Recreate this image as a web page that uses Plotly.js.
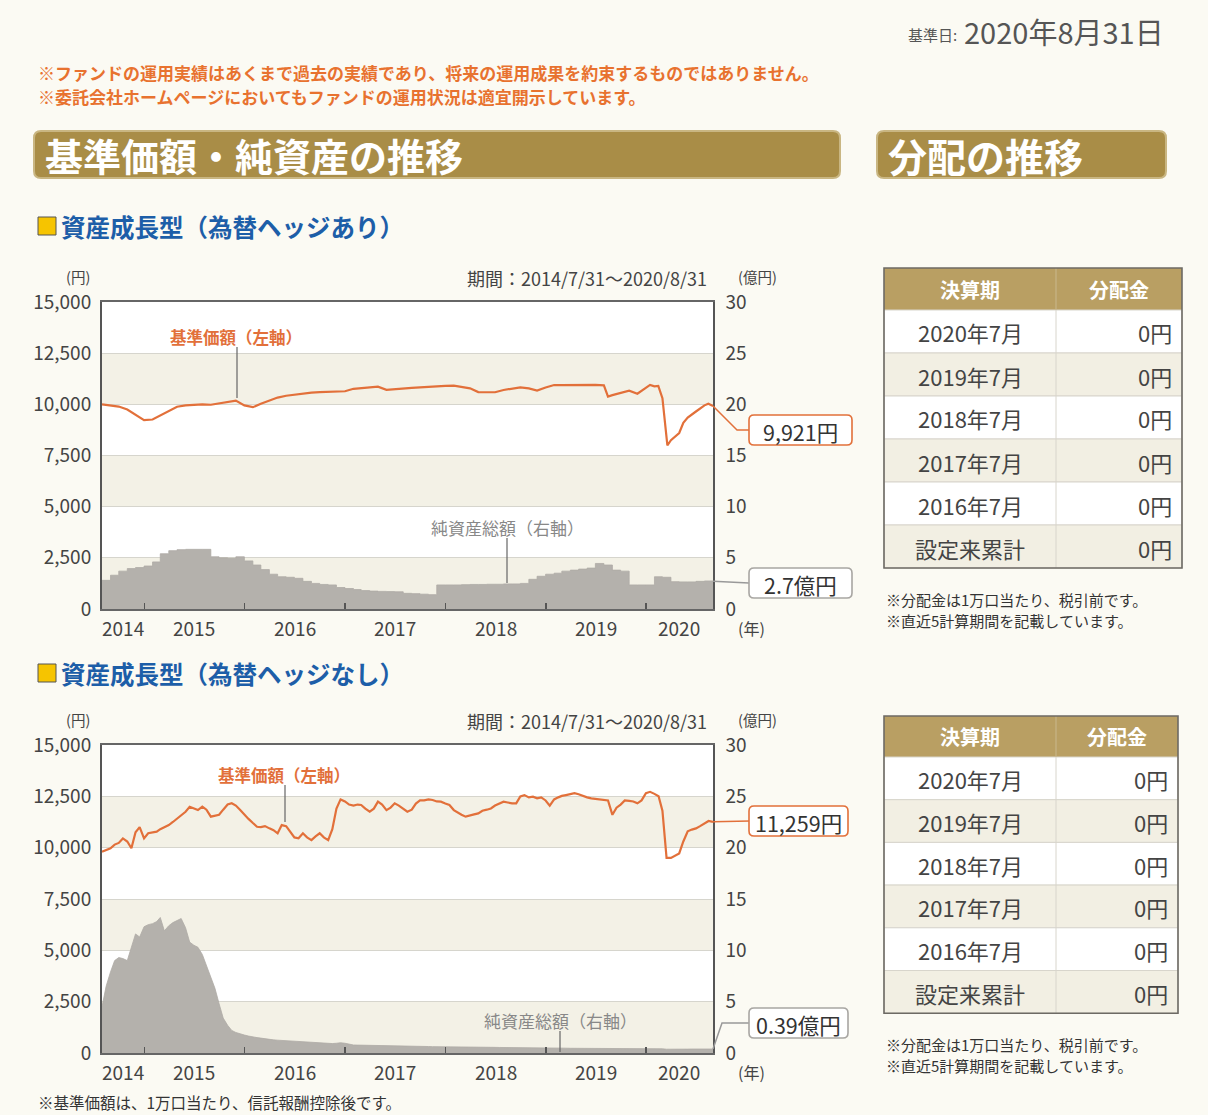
<!DOCTYPE html>
<html><head><meta charset="utf-8">
<script src="https://cdn.plot.ly/plotly-3.0.1.min.js"></script>
<style>html,body{margin:0;padding:0;background:#fbfaf3;} #chart{width:1208px;height:1115px;}</style>
</head><body><div id="chart"></div>
<script>
// ---------------- DATA ----------------
const rangeStart = '2014-07-31';
const rangeEnd = '2020-08-31';
const years = ['2014','2015','2016','2017','2018','2019','2020'];
const yearStarts = ['2015-01-01','2016-01-01','2017-01-01','2018-01-01','2019-01-01','2020-01-01'];
const leftTicks = [0,2500,5000,7500,10000,12500,15000];
const rightTicks = [0,5,10,15,20,25,30];

// Chart 1: 資産成長型（為替ヘッジあり） – monthly net assets (億円)
const monthEnds = ['2014-07-31','2014-08-31','2014-09-30','2014-10-31','2014-11-30','2014-12-31',
'2015-01-31','2015-02-28','2015-03-31','2015-04-30','2015-05-31','2015-06-30','2015-07-31','2015-08-31','2015-09-30','2015-10-31','2015-11-30','2015-12-31',
'2016-01-31','2016-02-29','2016-03-31','2016-04-30','2016-05-31','2016-06-30','2016-07-31','2016-08-31','2016-09-30','2016-10-31','2016-11-30','2016-12-31',
'2017-01-31','2017-02-28','2017-03-31','2017-04-30','2017-05-31','2017-06-30','2017-07-31','2017-08-31','2017-09-30','2017-10-31','2017-11-30','2017-12-31',
'2018-01-31','2018-02-28','2018-03-31','2018-04-30','2018-05-31','2018-06-30','2018-07-31','2018-08-31','2018-09-30','2018-10-31','2018-11-30','2018-12-31',
'2019-01-31','2019-02-28','2019-03-31','2019-04-30','2019-05-31','2019-06-30','2019-07-31','2019-08-31','2019-09-30','2019-10-31','2019-11-30','2019-12-31',
'2020-01-31','2020-02-29','2020-03-31','2020-04-30','2020-05-31','2020-06-30','2020-07-31','2020-08-31'];
const assets1 = [2.8,3.3,3.7,3.95,4.05,4.2,
4.6,5.4,5.7,5.8,5.83,5.83,5.83,5.1,5.0,4.95,5.1,4.7,
4.3,3.85,3.4,3.15,3.1,3.0,2.7,2.5,2.4,2.35,2.1,2.0,
1.9,1.8,1.75,1.72,1.7,1.68,1.53,1.5,1.45,1.4,2.35,2.35,
2.35,2.38,2.4,2.4,2.42,2.42,2.45,2.45,2.5,2.9,3.2,3.4,
3.5,3.7,3.8,3.9,4.0,4.45,4.3,3.8,3.7,2.35,2.35,2.35,
3.15,3.1,2.67,2.65,2.65,2.7,2.74,2.7];

// Chart 1 NAV (円)
const navDates1 = ['2014-07-31','2014-08-31','2014-09-30','2014-10-31','2014-11-30','2014-12-31',
'2015-01-31','2015-02-28','2015-03-31','2015-04-30','2015-05-31','2015-06-30','2015-07-31','2015-08-31','2015-09-30','2015-10-31','2015-11-30','2015-12-31',
'2016-01-31','2016-02-29','2016-03-31','2016-04-30','2016-05-31','2016-06-30','2016-07-31','2016-08-31','2016-09-30','2016-10-31','2016-11-30','2016-12-31',
'2017-01-31','2017-02-28','2017-03-31','2017-04-30','2017-05-31','2017-06-30','2017-07-31','2017-08-31','2017-09-30','2017-10-31','2017-11-30','2017-12-31',
'2018-01-31','2018-02-28','2018-03-31','2018-04-30','2018-05-31','2018-06-30','2018-07-31','2018-08-31','2018-09-30','2018-10-31','2018-11-30','2018-12-31',
'2019-01-31','2019-02-28','2019-03-31','2019-04-30','2019-05-31','2019-06-30','2019-07-31','2019-08-15','2019-08-31','2019-09-30','2019-10-31','2019-11-30','2019-12-31',
'2020-01-15','2020-01-31','2020-02-14','2020-02-29','2020-03-18','2020-03-31','2020-04-15','2020-04-30','2020-05-15','2020-05-31','2020-06-30','2020-07-31','2020-08-14','2020-08-31'];
const nav1 = [10000,9950,9890,9750,9500,9230,
9260,9450,9650,9880,9950,9990,10000,9980,10050,10100,10180,9950,
9860,10030,10200,10330,10420,10480,10530,10570,10600,10620,10620,10640,
10760,10800,10840,10860,10710,10750,10780,10800,10830,10860,10880,10900,
10910,10850,10780,10600,10580,10590,10700,10760,10830,10780,10670,10820,
10945,10940,10950,10955,10950,10950,10930,10380,10450,10560,10670,10520,10800,
10950,10880,10900,10300,8000,8250,8450,8600,9100,9350,9650,9950,10030,9921];

// Chart 2: 資産成長型（為替ヘッジなし） – semi-monthly
const dates2 = ['2014-07-31',
'2014-08-15','2014-08-31','2014-09-15','2014-09-30','2014-10-15','2014-10-31','2014-11-15','2014-11-30','2014-12-15','2014-12-31',
'2015-01-15','2015-01-31','2015-02-15','2015-02-28','2015-03-15','2015-03-31','2015-04-15','2015-04-30','2015-05-15','2015-05-31','2015-06-15','2015-06-30',
'2015-07-15','2015-07-31','2015-08-15','2015-08-31','2015-09-15','2015-09-30','2015-10-15','2015-10-31','2015-11-15','2015-11-30','2015-12-15','2015-12-31',
'2016-01-15','2016-01-31','2016-02-15','2016-02-29','2016-03-15','2016-03-31','2016-04-15','2016-04-30','2016-05-15','2016-05-31','2016-06-15','2016-06-30',
'2016-07-15','2016-07-31','2016-08-15','2016-08-31','2016-09-15','2016-09-30','2016-10-15','2016-10-31','2016-11-15','2016-11-30','2016-12-15','2016-12-31',
'2017-01-15','2017-01-31','2017-02-15','2017-02-28','2017-03-15','2017-03-31','2017-04-15','2017-04-30','2017-05-15','2017-05-31','2017-06-15','2017-06-30',
'2017-07-15','2017-07-31','2017-08-15','2017-08-31','2017-09-15','2017-09-30','2017-10-15','2017-10-31','2017-11-15','2017-11-30','2017-12-15','2017-12-31',
'2018-01-15','2018-01-31','2018-02-15','2018-02-28','2018-03-15','2018-03-31','2018-04-15','2018-04-30','2018-05-15','2018-05-31','2018-06-15','2018-06-30',
'2018-07-15','2018-07-31','2018-08-15','2018-08-31','2018-09-15','2018-09-30','2018-10-15','2018-10-31','2018-11-15','2018-11-30','2018-12-15','2018-12-31',
'2019-01-15','2019-01-31','2019-02-15','2019-02-28','2019-03-15','2019-03-31','2019-04-15','2019-04-30','2019-05-15','2019-05-31','2019-06-15','2019-06-30',
'2019-07-15','2019-07-31','2019-08-15','2019-08-31','2019-09-15','2019-09-30','2019-10-15','2019-10-31','2019-11-15','2019-11-30','2019-12-15','2019-12-31',
'2020-01-15','2020-01-31','2020-02-15','2020-02-29','2020-03-15','2020-03-31','2020-04-15','2020-04-30','2020-05-15','2020-05-31','2020-06-15','2020-06-30',
'2020-07-15','2020-07-31','2020-08-15','2020-08-31'];
const nav2 = [9800,
9880,9970,10150,10230,10450,10300,9970,10750,11000,10450,
10700,10750,10780,10900,11000,11100,11250,11400,11550,11750,11990,11900,
11830,12000,11850,11510,11560,11600,11850,12100,12160,12050,11850,11600,
11400,11200,11020,11000,11050,10940,10850,10700,11100,11050,10780,10500,
10456,10700,10500,10370,10550,10700,10500,10370,10900,11900,12350,12250,
12100,12050,12100,12080,11900,11750,11900,12240,12100,11830,11950,12160,
12050,11900,11750,11850,12150,12300,12300,12350,12320,12250,12240,12150,
12080,11830,11700,11600,11510,11550,11620,11670,11800,11850,11910,12050,
12150,12240,12200,12160,12160,12500,12560,12450,12480,12400,12450,12300,
12050,12350,12450,12520,12560,12620,12650,12600,12520,12450,12400,12380,
12350,12330,12300,11600,11950,12100,12300,12280,12250,12160,12300,12650,
12720,12620,12500,11800,9500,9500,9600,9720,10300,10800,10880,10940,
11050,11200,11300,11259];
const assets2 = [4.5,
6.5,7.9,9.0,9.3,9.2,9.0,10.4,11.6,11.3,12.3,
12.5,12.6,12.8,13.2,11.9,12.4,12.7,12.9,13.1,12.2,10.8,10.5,
10.3,9.6,8.5,7.2,6.3,4.8,3.4,2.7,2.2,2.0,1.85,1.75,
1.65,1.55,1.5,1.45,1.38,1.33,1.28,1.25,1.22,1.2,1.17,1.14,
1.12,1.1,1.08,1.05,1.02,1.0,0.97,0.94,0.92,0.95,1.0,0.95,
0.85,0.78,0.77,0.76,0.75,0.74,0.73,0.72,0.72,0.71,0.70,0.70,
0.69,0.68,0.67,0.66,0.65,0.64,0.63,0.63,0.62,0.62,0.61,0.61,
0.60,0.60,0.59,0.59,0.58,0.58,0.57,0.57,0.56,0.56,0.55,0.55,
0.54,0.54,0.53,0.53,0.52,0.52,0.51,0.51,0.50,0.50,0.49,0.49,
0.48,0.48,0.47,0.47,0.47,0.46,0.46,0.46,0.45,0.45,0.45,0.44,
0.44,0.44,0.43,0.43,0.43,0.43,0.42,0.42,0.42,0.42,0.42,0.42,
0.42,0.42,0.42,0.41,0.37,0.36,0.37,0.37,0.38,0.38,0.39,0.39,
0.39,0.39,0.39,0.39];

const latestNav = ['9,921円','11,259円'];
const latestAssets = ['2.7億円','0.39億円'];
const fundNames = ['資産成長型（為替ヘッジあり）','資産成長型（為替ヘッジなし）'];
const periodLabel = '期間：2014/7/31～2020/8/31';

const tableHeader = ['決算期','分配金'];
const tablePeriods = ['2020年7月','2019年7月','2018年7月','2017年7月','2016年7月','設定来累計'];
const tableAmounts = ['0円','0円','0円','0円','0円','0円'];

// ---------------- LAYOUT HELPERS ----------------
const W = 1208, H = 1115;
const FONT = 'Noto Sans CJK JP, Noto Sans, sans-serif';
const X = p => p / W;
const Y = p => 1 - p / H;
const ORANGE = '#e2703a', TEXT = '#444';
const GOLD_BAR = '#a98d47', GOLD_HEAD = '#b99f63';

const annotations = [];
const shapes = [];
function txt(text, x, y, o) {
  o = o || {};
  annotations.push({text: text, xref:'paper', yref:'paper', x:X(x), y:Y(y),
    xanchor: o.xa || 'left', yanchor: o.ya || 'middle', showarrow:false,
    font:{family:FONT, size:o.size || 14, color:o.color || TEXT, weight:o.weight || 'normal'}});
}
function rect(x0,y0,x1,y1,fill,lineColor,lw) {
  shapes.push({type:'rect', xref:'paper', yref:'paper', x0:X(x0), x1:X(x1), y0:Y(y1), y1:Y(y0),
    fillcolor:fill, line:{color:lineColor || 'rgba(0,0,0,0)', width: lw || 0}, layer:'above'});
}
function line(pts, color, w) {
  let d = pts.map((p,i)=> (i?'L':'M') + X(p[0]) + ',' + Y(p[1])).join(' ');
  shapes.push({type:'path', xref:'paper', yref:'paper', path:d, line:{color:color, width:w||1.2}, layer:'above'});
}
function rrect(x0,y0,x1,y1,r,fill,lineColor,lw) {
  const P = (x,y)=> X(x)+','+Y(y);
  const d = 'M'+P(x0+r,y0)+' L'+P(x1-r,y0)+' Q'+P(x1,y0)+' '+P(x1,y0+r)+' L'+P(x1,y1-r)+' Q'+P(x1,y1)+' '+P(x1-r,y1)+
    ' L'+P(x0+r,y1)+' Q'+P(x0,y1)+' '+P(x0,y1-r)+' L'+P(x0,y0+r)+' Q'+P(x0,y0)+' '+P(x0+r,y0)+' Z';
  shapes.push({type:'path', xref:'paper', yref:'paper', path:d, fillcolor:fill, line:{color:lineColor||'rgba(0,0,0,0)', width:lw||0}, layer:'above'});
}

// plot geometry (pixels)
const PL = 102, PR = 713;
const charts = [{top:302, bot:609}, {top:745, bot:1053}];

// year label positions: middle of each visible year segment
const bounds = [rangeStart].concat(yearStarts).concat([rangeEnd]);
const yearMids = years.map((y,i)=> new Date((Date.parse(bounds[i]) + Date.parse(bounds[i+1]))/2).toISOString().slice(0,10));

// ---------------- AXES ----------------
const tickFont = {family:FONT, size:19, color:'#444'};
function xBase(anchor) {
  return {domain:[X(PL), X(PR)], anchor:anchor, type:'date', range:[rangeStart, rangeEnd],
    tickvals:yearStarts, ticks:'inside', ticklen:6, tickwidth:1.6, tickcolor:'#555',
    showticklabels:false, showgrid:false, zeroline:false, showline:true, linecolor:'#666', linewidth:1.6, mirror:true};
}
function yLeft(ch, anchor) {
  return {domain:[Y(ch.bot), Y(ch.top)], anchor:anchor, range:[0,15000], tickvals:leftTicks, tickformat:',',
    showgrid:true, gridcolor:'#d6d5cd', gridwidth:1, zeroline:false, showline:true, linecolor:'#555', linewidth:2,
    ticks:'', tickfont:tickFont, ticklabelstandoff:5};
}
function yRight(over, anchor) {
  return {overlaying:over, anchor:anchor, side:'right', range:[0,30], tickvals:rightTicks,
    showgrid:false, zeroline:false, showline:true, linecolor:'#555', linewidth:1.6, ticks:'', tickfont:tickFont, ticklabelstandoff:7};
}

// alternating bands from left ticks
[['y','x'],['y3','x2']].forEach(([yr, xr])=>{
  for (let i = 0; i < leftTicks.length - 1; i += 2) {
    shapes.push({type:'rect', xref: xr + ' domain', yref: yr, x0:0, x1:1, y0:leftTicks[i], y1:leftTicks[i+1],
      fillcolor:'#f3f1e6', line:{width:0}, layer:'below'});
  }
});

// year labels centred in each visible year
[['x', charts[0]], ['x2', charts[1]]].forEach(([xr, ch])=>{
  years.forEach((yr, i)=>{
    annotations.push({text: yr, xref: xr, yref:'paper', x: yearMids[i], y: Y(ch.bot + 18),
      xanchor:'center', yanchor:'middle', showarrow:false, font:{family:FONT, size:19, color:'#444'}});
  });
});

// ---------------- TRACES ----------------
const traces = [
  {x:monthEnds, y:assets1, xaxis:'x', yaxis:'y2', type:'scatter', mode:'lines', fill:'tozeroy',
   fillcolor:'#b4b1ac', line:{color:'#aeaba6', width:0.8, shape:'hv'}},
  {x:navDates1, y:nav1, xaxis:'x', yaxis:'y', type:'scatter', mode:'lines', line:{color:ORANGE, width:2.2}},
  {x:dates2, y:assets2, xaxis:'x2', yaxis:'y4', type:'scatter', mode:'lines', fill:'tozeroy',
   fillcolor:'#b4b1ac', line:{color:'#aeaba6', width:0.8}},
  {x:dates2, y:nav2, xaxis:'x2', yaxis:'y3', type:'scatter', mode:'lines', line:{color:ORANGE, width:2.2}}
];

// ---------------- DECORATION ----------------
txt('基準日:', 959, 34, {xa:'right', size:15, color:'#555'});
txt('2020年8月31日', 1166, 31, {xa:'right', size:29, color:'#555'});
txt('※ファンドの運用実績はあくまで過去の実績であり、将来の運用成果を約束するものではありません。', 36, 72, {size:17, color:'#e8722f', weight:'bold'});
txt('※委託会社ホームページにおいてもファンドの運用状況は適宜開示しています。', 36, 96, {size:17, color:'#e8722f', weight:'bold'});
rrect(34,131,840,178,7,GOLD_BAR,'#c9b682',2);
rrect(877,131,1166,178,7,GOLD_BAR,'#c9b682',2);
txt('基準価額・純資産の推移', 43, 155, {size:38, color:'#ffffff', weight:'bold'});
txt('分配の推移', 886, 155, {size:39, color:'#ffffff', weight:'bold'});

const subY = [226, 673];
const navSeries = [nav1, nav2], assetSeries = [assets1, assets2];
charts.forEach((ch, k)=>{
  const sy = subY[k];
  rect(38, sy-9, 56, sy+9, '#f6c400', '#555', 1);
  txt(fundNames[k], 59, sy, {size:24.5, color:'#1d5ea8', weight:'bold'});
  txt('(円)', 78, ch.top-26, {xa:'center', size:14.5, color:'#444'});
  txt(periodLabel, 709, ch.top-24, {xa:'right', size:18, color:'#444'});
  txt('(億円)', 757, ch.top-26, {xa:'center', size:14.5, color:'#444'});
  txt('(年)', 751, ch.bot+19, {xa:'center', size:16, color:'#444'});
  const hpx = ch.bot - ch.top;
  const nv = navSeries[k][navSeries[k].length-1];
  const ny = ch.bot - nv / 15000 * hpx;
  const av = assetSeries[k][assetSeries[k].length-1];
  const ay = ch.bot - av / 30 * hpx;
  let boxNavY, boxAstY;
  if (k === 0) {
    boxNavY = 430; boxAstY = 583;
    line([[PR, ny], [737, boxNavY], [749, boxNavY]], ORANGE, 1.5);
    line([[PR, ay], [749, boxAstY]], '#999', 1.5);
  } else {
    boxNavY = 821; boxAstY = 1023;
    line([[PR, ny], [750, boxNavY]], ORANGE, 1.5);
    line([[PR, ay], [722, boxAstY], [750, boxAstY]], '#999', 1.5);
  }
  const bx1 = k === 0 ? 852 : 848;
  rrect(749, boxNavY-15, bx1, boxNavY+15, 5, '#ffffff', ORANGE, 1.6);
  rrect(749, boxAstY-15, bx1, boxAstY+15, 5, '#ffffff', '#a8a6a2', 1.6);
  txt(latestNav[k], (749+bx1)/2, boxNavY+1, {xa:'center', size:21.5, color:'#333'});
  txt(latestAssets[k], (749+bx1)/2, boxAstY+1, {xa:'center', size:21.5, color:'#333'});
});
txt('基準価額（左軸）', 236, 337, {xa:'center', size:16.5, color:ORANGE, weight:'bold'});
line([[237,347],[237,398]], '#666', 1.2);
txt('純資産総額（右軸）', 507, 527, {xa:'center', size:17, color:'#888'});
line([[507,538],[507,583]], '#666', 1.2);
txt('基準価額（左軸）', 284, 775, {xa:'center', size:16.5, color:ORANGE, weight:'bold'});
line([[285,785],[285,822]], '#666', 1.2);
txt('純資産総額（右軸）', 560, 1020, {xa:'center', size:17, color:'#888'});
line([[560,1031],[560,1052]], '#666', 1.2);

function table(top, left, right, rowH, headH, notesY) {
  const mid = 1056;
  rect(left, top, right, top+headH, GOLD_HEAD);
  txt(tableHeader[0], (left+mid)/2, top+headH/2, {xa:'center', size:20, color:'#ffffff', weight:'bold'});
  txt(tableHeader[1], (mid+right)/2, top+headH/2, {xa:'center', size:20, color:'#ffffff', weight:'bold'});
  tablePeriods.forEach((p,i)=>{
    const y0 = top + headH + i*rowH;
    rect(left, y0, right, y0+rowH, i % 2 ? '#f2efe3' : '#ffffff', '#d8d5cc', 1);
    txt(p, (left+mid)/2, y0+rowH/2+1, {xa:'center', size:22, color:'#444'});
    txt(tableAmounts[i], right-8, y0+rowH/2+1, {xa:'right', size:22, color:'#444'});
  });
  const bottom = top + headH + tablePeriods.length*rowH;
  line([[mid, top+headH],[mid, bottom]], '#d8d5cc', 1);
  line([[mid, top],[mid, top+headH]], '#c9b88e', 1);
  shapes.push({type:'rect', xref:'paper', yref:'paper', x0:X(left), x1:X(right), y0:Y(bottom), y1:Y(top),
    line:{color:'#6d6a64', width:1.6}, fillcolor:'rgba(0,0,0,0)', layer:'above'});
  txt('※分配金は1万口当たり、税引前です。', 884, notesY, {size:15, color:'#333'});
  txt('※直近5計算期間を記載しています。', 884, notesY+21, {size:15, color:'#333'});
}
table(268, 884, 1182, 43, 42, 599);
table(716, 884, 1178, 42.7, 41, 1044);

txt('※基準価額は、1万口当たり、信託報酬控除後です。', 36, 1102, {size:15.5, color:'#333'});

const layout = {
  width:W, height:H, margin:{l:0,r:0,t:0,b:0}, paper_bgcolor:'#fbfaf3', plot_bgcolor:'#ffffff',
  showlegend:false, font:{family:FONT},
  xaxis: xBase('y'), xaxis2: xBase('y3'),
  yaxis: yLeft(charts[0],'x'), yaxis2: yRight('y','x'),
  yaxis3: yLeft(charts[1],'x2'), yaxis4: yRight('y3','x2'),
  shapes: shapes, annotations: annotations
};
Plotly.newPlot('chart', traces, layout, {staticPlot:true, displayModeBar:false});
</script></body></html>
